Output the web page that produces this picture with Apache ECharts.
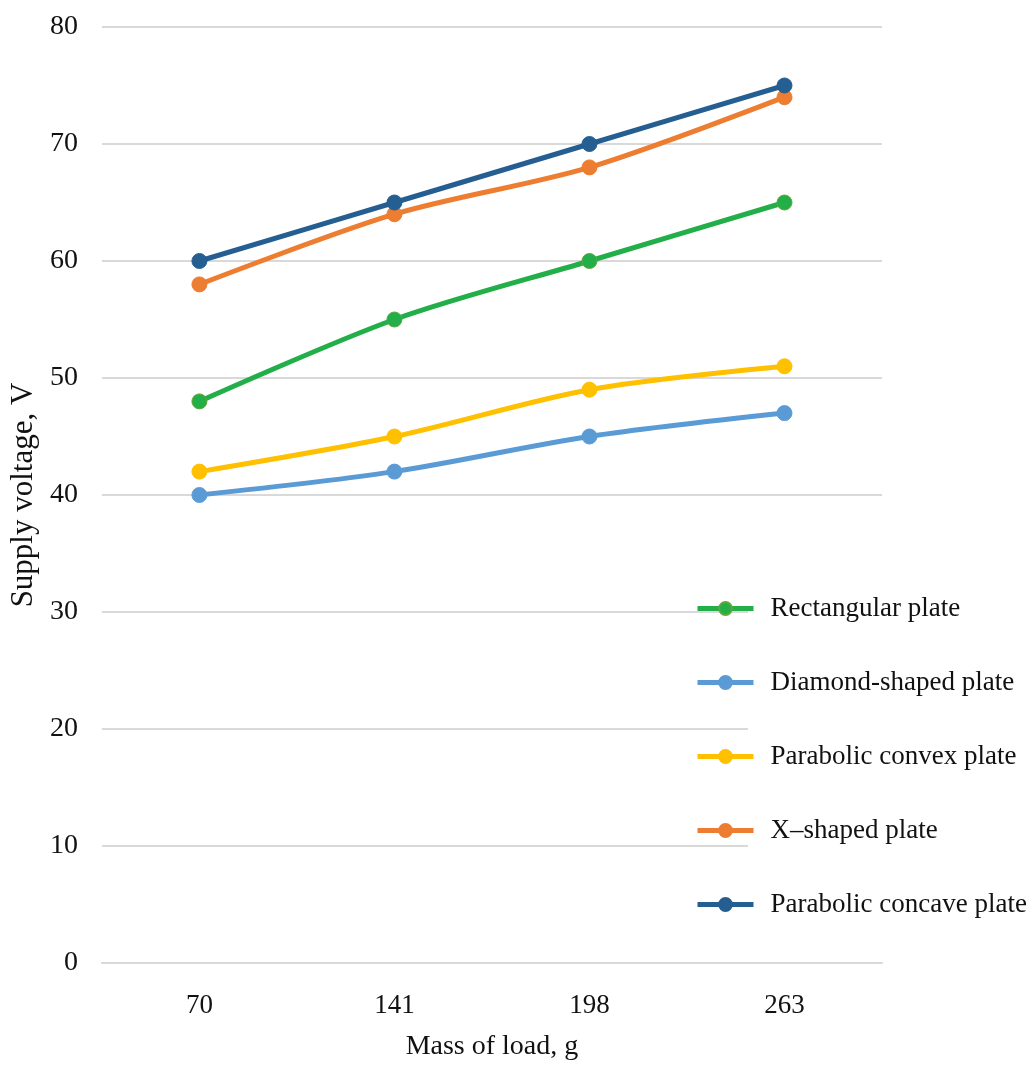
<!DOCTYPE html>
<html><head><meta charset="utf-8">
<script src="https://cdn.jsdelivr.net/npm/echarts@6/dist/echarts.min.js"></script>
<style>html,body{margin:0;padding:0;background:#fff}#c{width:1036px;height:1066px}</style>
</head><body><div id="c"></div>
<script>
const categories = ['70', '141', '198', '263'];
const rectangular = [48, 55, 60, 65];
const diamond = [40, 42, 45, 47];
const convex = [42, 45, 49, 51];
const xShaped = [58, 64, 68, 74];
const concave = [60, 65, 70, 75];
const names = ['Rectangular plate', 'Diamond-shaped plate', 'Parabolic convex plate', 'X\u2013shaped plate', 'Parabolic concave plate'];
const colors = ['#22ae48', '#5b9bd5', '#ffc000', '#ed7d31', '#255e91'];
const datasets = [rectangular, diamond, convex, xShaped, concave];
const font = 'Liberation Serif, Times New Roman, serif';
const chart = echarts.init(document.getElementById('c'));
chart.setOption({
  backgroundColor: '#fff',
  animation: false,
  textStyle: { fontFamily: font },
  grid: { left: 98, right: 154, top: 27, bottom: 90 },
  xAxis: {
    type: 'category', data: categories, boundaryGap: true,
    name: 'Mass of load, g', nameLocation: 'middle', nameGap: 70,
    nameTextStyle: { fontFamily: font, fontSize: 28, color: '#111' },
    axisLine: { show: true, lineStyle: { color: '#d9d9d9', width: 2 } },
    axisTick: { show: false },
    axisLabel: { fontFamily: font, fontSize: 27, color: '#111', margin: 29 }
  },
  yAxis: {
    type: 'value', min: 0, max: 80, interval: 10,
    name: 'Supply voltage, V', nameLocation: 'middle', nameGap: 62,
    nameTextStyle: { fontFamily: font, fontSize: 31, color: '#111' },
    axisLine: { show: false }, axisTick: { show: false },
    axisLabel: { fontFamily: font, fontSize: 28, color: '#111', margin: 24 },
    splitLine: { lineStyle: { color: '#d9d9d9', width: 2 } }
  },
  graphic: [{ type: 'rect', shape: { x: 748, y: 585, width: 288, height: 345 }, style: { fill: '#fff' }, z: 5 }],
  legend: {
    orient: 'vertical', left: 690, top: 590, itemGap: 47, itemWidth: 56, itemHeight: 16,
    z: 10,
    lineStyle: { width: 5 },
    textStyle: { fontFamily: font, fontSize: 27, color: '#111', padding: [0, 0, 0, 12] },
    data: names
  },
  series: datasets.map((d, i) => ({
    name: names[i], type: 'line', data: d, smooth: 0.3,
    symbol: 'circle', symbolSize: 15,
    lineStyle: { color: colors[i], width: 5 },
    itemStyle: { color: colors[i], borderColor: i === 0 ? '#5fa83a' : colors[i], borderWidth: 1 }
  }))
});
</script></body></html>
